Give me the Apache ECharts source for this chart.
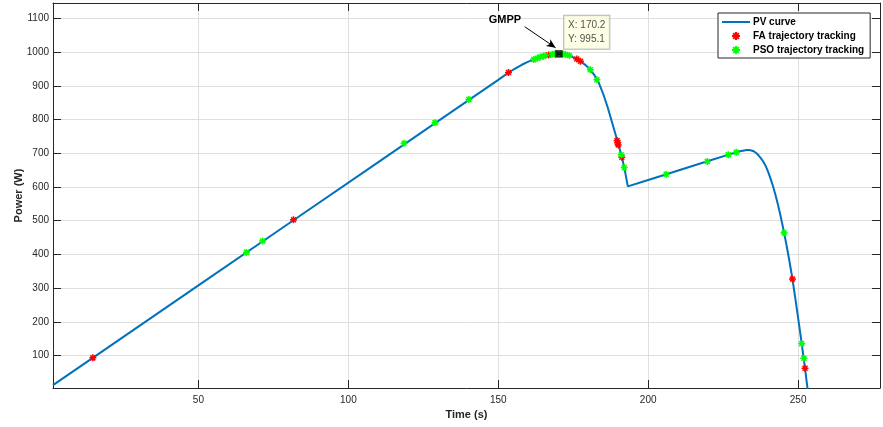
<!DOCTYPE html>
<html><head><meta charset="utf-8">
<script src="https://cdn.jsdelivr.net/npm/echarts@6/dist/echarts.min.js"></script>
<style>html,body{margin:0;padding:0;background:#fff}#c{width:883px;height:427px}</style>
</head><body><div id="c"></div>
<script>
// ---- data ----
const pvTime  = [1.5, 20, 50, 80, 110, 140, 150, 152, 153.4, 155, 156.5, 158, 159.5, 161, 162.5, 164, 165.5, 167, 168.5, 170.2, 171.5, 173, 174.5, 176, 177.5, 179, 180.5, 182, 183.5, 185, 186.5, 188, 189.5, 190.5, 191.5, 192.3, 193.2, 200, 210, 220, 226, 229, 230, 231, 232, 232.8, 233.6, 234.4, 235.2, 236, 236.8, 237.6, 238.4, 239.2, 240, 240.8, 241.6, 242.4, 243.2, 244, 245, 246, 247, 248, 249, 250, 251, 251.6, 252.3, 253.15];
const pvPower = [12, 125, 308, 491, 674, 857, 918, 930.5, 939, 948, 956, 963.5, 970, 976, 981, 985.5, 989.3, 992.3, 994.3, 995.1, 994.6, 991.8, 987, 980.5, 972.5, 962.5, 950, 933, 910, 876, 836, 790, 744, 712, 678, 645, 602, 621, 649, 677, 694, 702, 704.5, 706.8, 708.5, 709.5, 709.6, 708.5, 706, 701, 694, 685, 675, 662, 645, 625, 603, 578, 550, 520, 478, 433, 385, 333, 273, 211, 148, 108, 62, 0];

const faTime  = [14.8, 81.7, 153.4, 166.8, 176.2, 177.4, 189.6, 189.8, 190.0, 191.2, 248.1, 252.3];
const faPower = [93, 503, 940, 992, 980, 973, 738, 731, 725, 688, 327, 62];

const psoTime  = [66, 71.4, 118.6, 128.9, 140.2, 161.8, 163, 164, 165, 165.7, 168, 169, 171.5, 172.4, 173.7, 180.7, 182.9, 191, 192, 206, 219.7, 226.7, 229.4, 245.3, 251.2, 251.9];
const psoPower = [406, 440, 730, 791, 860, 978, 982, 986, 988, 990, 994, 995, 994.5, 993.5, 990, 948, 918, 696, 658, 638, 676, 696, 703, 464, 135, 92];

const gmppPoint = [170.2, 995.1];
const arrowFrom = [158.8, 1075.7];
const arrowTo   = [169.1, 1013.4];
const gmppTextAt = [152.2, 1097];

const xTicks = [50, 100, 150, 200, 250];
const yTicks = [100, 200, 300, 400, 500, 600, 700, 800, 900, 1000, 1100];
const xRange = [1.5, 277.3];
const yRange = [3.6, 1146];

// ---- chart ----
const FONT = 'Liberation Sans, Arial, Helvetica, sans-serif';
const AX = '#262626';
const star = 'path://M-1,0L1,0M0,-1L0,1M-0.71,-0.71L0.71,0.71M-0.71,0.71L0.71,-0.71';
const lineIcon = 'path://M0,0L28,0L28,2L0,2Z';
const zip = (a, b) => a.map((v, i) => [v, b[i]]);
const fmt = ticks => v => ticks.some(t => Math.abs(t - v) < 1e-6) ? String(Math.round(v)) : '';

const chart = echarts.init(document.getElementById('c'), null, {renderer: 'canvas'});
const axisCommon = {
  type: 'value',
  axisLine: {show: true, onZero: false, lineStyle: {color: AX, width: 1}},
  axisTick: {show: true, inside: true, length: 8, lineStyle: {color: AX, width: 1}},
};
chart.setOption({
  animation: false,
  backgroundColor: '#fff',
  textStyle: {fontFamily: FONT},
  grid: {left: 53, right: 1, top: 3, bottom: 39, containLabel: false},
  xAxis: [
    Object.assign({}, axisCommon, {
      position: 'bottom', min: xRange[0], max: xRange[1], minInterval: 50, maxInterval: 50,
      name: 'Time (s)', nameLocation: 'middle', nameGap: 21, nameMoveOverlap: false,
      nameTextStyle: {fontFamily: FONT, fontSize: 11, fontWeight: 'bold', color: AX},
      axisLabel: {show: true, margin: 7, fontFamily: FONT, fontSize: 10, color: AX, formatter: fmt(xTicks)},
      splitLine: {show: true, lineStyle: {color: '#dfdfdf', width: 1}}
    }),
    Object.assign({}, axisCommon, {
      position: 'top', min: xRange[0], max: xRange[1], minInterval: 50, maxInterval: 50,
      axisLabel: {show: false}, splitLine: {show: false}
    })
  ],
  yAxis: [
    Object.assign({}, axisCommon, {
      position: 'left', min: yRange[0], max: yRange[1], minInterval: 100, maxInterval: 100,
      name: 'Power (W)', nameLocation: 'middle', nameGap: 29, nameMoveOverlap: false,
      nameTextStyle: {fontFamily: FONT, fontSize: 11, fontWeight: 'bold', color: AX},
      axisLabel: {show: true, margin: 4, fontFamily: FONT, fontSize: 10, color: AX, formatter: fmt(yTicks)},
      splitLine: {show: true, lineStyle: {color: '#dfdfdf', width: 1}}
    }),
    Object.assign({}, axisCommon, {
      position: 'right', min: yRange[0], max: yRange[1], minInterval: 100, maxInterval: 100,
      axisLabel: {show: false}, splitLine: {show: false}
    })
  ],
  legend: {
    orient: 'vertical', left: 718, top: 13,
    itemWidth: 28, itemHeight: 8, itemGap: 4,
    padding: [4, 6, 3, 4],
    backgroundColor: '#fff', borderColor: AX, borderWidth: 1, borderRadius: 0,
    textStyle: {fontFamily: FONT, fontSize: 10, fontWeight: 'bold', color: '#000', padding: [0, 0, 0, -2]},
    data: [
      {name: 'PV curve', icon: lineIcon},
      {name: 'FA trajectory tracking'},
      {name: 'PSO trajectory tracking'}
    ]
  },
  series: [
    {
      name: 'PV curve', type: 'line', data: zip(pvTime, pvPower),
      showSymbol: false, symbol: 'none', smooth: false, clip: true,
      lineStyle: {color: '#0072BD', width: 2}, itemStyle: {color: '#0072BD'}, z: 2
    },
    {
      name: 'FA trajectory tracking', type: 'scatter', data: zip(faTime, faPower),
      symbol: star, symbolSize: 7,
      itemStyle: {color: '#ff0000', borderColor: '#ff0000', borderWidth: 1.5, opacity: 1}, z: 3
    },
    {
      name: 'PSO trajectory tracking', type: 'scatter', data: zip(psoTime, psoPower),
      symbol: star, symbolSize: 7,
      itemStyle: {color: '#00ff00', borderColor: '#00ff00', borderWidth: 1.5, opacity: 1}, z: 4
    },
    {
      name: 'GMPP', type: 'scatter', data: [gmppPoint],
      symbol: 'rect', symbolSize: 7, z: 10,
      itemStyle: {color: '#000', borderColor: '#000', borderWidth: 0.5},
      label: {
        show: true, position: 'right', distance: 1.5, offset: [0, -21.5],
        formatter: 'X: ' + gmppPoint[0].toFixed(1) + '\nY: ' + gmppPoint[1].toFixed(1),
        fontFamily: FONT, fontSize: 10, color: '#262626', lineHeight: 14,
        backgroundColor: '#ffffe1', borderColor: '#a6a6a6', borderWidth: 1,
        padding: [3, 4, 2, 4], align: 'left'
      },
      markLine: {
        silent: true, animation: false, symbol: ['none', 'arrow'], symbolSize: [6, 9],
        lineStyle: {color: '#000', width: 1, type: 'solid'},
        label: {show: false},
        data: [[{coord: arrowFrom}, {coord: arrowTo}]]
      },
      markPoint: {
        silent: true, animation: false,
        data: [{
          coord: gmppTextAt, symbol: 'circle', symbolSize: 1,
          itemStyle: {color: 'rgba(0,0,0,0)'},
          label: {show: true, position: 'inside', formatter: 'GMPP',
            fontFamily: FONT, fontSize: 11, fontWeight: 'bold', color: '#000'}
        }]
      }
    }
  ]
});
</script>
</body></html>
